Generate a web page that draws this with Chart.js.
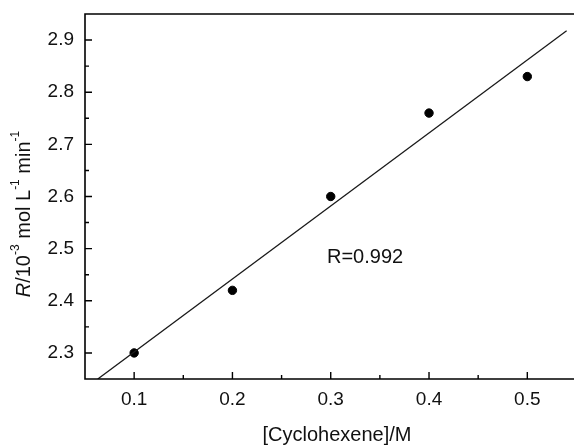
<!DOCTYPE html>
<html>
<head>
<meta charset="utf-8">
<script src="https://cdn.jsdelivr.net/npm/chart.js@4/dist/chart.umd.min.js"></script>
<style>
  html, body { margin: 0; padding: 0; background: #fff; }
  #wrap { width: 574px; height: 446px; }
</style>
</head>
<body>
<div id="wrap"><canvas id="myChart"></canvas></div>
<script>
// measured points
const concX = [0.1, 0.2, 0.3, 0.4, 0.5];
const rateY = [2.30, 2.42, 2.60, 2.76, 2.83];
// fitted line ends
const fitX = [0.063, 0.54];
const fitY = [2.25, 2.918];
// ticks
const xTicks = [0.1, 0.2, 0.3, 0.4, 0.5];
const xMinor = [0.15, 0.25, 0.35, 0.45];
const yTicks = [2.3, 2.4, 2.5, 2.6, 2.7, 2.8, 2.9];
const yMinor = [2.35, 2.45, 2.55, 2.65, 2.75, 2.85];

const FONT = '"Liberation Sans", Arial, sans-serif';

// axes lines, inward ticks and titles
const frame = {
    id: 'frame',
    afterDraw(chart) {
        const c = chart.ctx;
        const a = chart.chartArea;
        const xs = chart.scales.x, ys = chart.scales.y;
        c.save();
        c.strokeStyle = '#000';
        c.lineWidth = 1.6;
        c.beginPath();
        c.moveTo(a.right, a.top); c.lineTo(a.left, a.top);
        c.lineTo(a.left, a.bottom); c.lineTo(a.right, a.bottom);
        c.stroke();
        c.lineWidth = 1.4;
        c.beginPath();
        xTicks.forEach(v => { const p = xs.getPixelForValue(v); c.moveTo(p, a.bottom); c.lineTo(p, a.bottom - 7); });
        xMinor.forEach(v => { const p = xs.getPixelForValue(v); c.moveTo(p, a.bottom); c.lineTo(p, a.bottom - 4); });
        yTicks.forEach(v => { const p = ys.getPixelForValue(v); c.moveTo(a.left, p); c.lineTo(a.left + 7, p); });
        yMinor.forEach(v => { const p = ys.getPixelForValue(v); c.moveTo(a.left, p); c.lineTo(a.left + 4, p); });
        c.stroke();

        c.fillStyle = '#111';
        c.font = '20px ' + FONT;
        c.textAlign = 'center';
        c.textBaseline = 'middle';
        c.fillText('[Cyclohexene]/M', 337, 435);

        c.textAlign = 'left';
        c.fillText('R=0.992', 327, 257);

        // y title with italic R and superscripts
        const parts = [
            ['R', 'italic 20px ', 0],
            ['/10', '20px ', 0],
            ['-3', '12px ', -8],
            [' mol L', '20px ', 0],
            ['-1', '12px ', -8],
            [' min', '20px ', 0],
            ['-1', '12px ', -8]
        ];
        let total = 0;
        parts.forEach(p => { c.font = p[1] + FONT; total += c.measureText(p[0]).width; });
        c.translate(24, 214);
        c.rotate(-Math.PI / 2);
        c.textBaseline = 'middle';
        let x = -total / 2;
        parts.forEach(p => {
            c.font = p[1] + FONT;
            c.fillText(p[0], x, p[2]);
            x += c.measureText(p[0]).width;
        });
        c.restore();
    }
};

new Chart(document.getElementById('myChart'), {
    type: 'scatter',
    data: {
        datasets: [{
            type: 'line',
            data: fitX.map((v, i) => ({ x: v, y: fitY[i] })),
            borderColor: '#1a1a1a',
            borderWidth: 1.3,
            pointRadius: 0,
            fill: false
        }, {
            data: concX.map((v, i) => ({ x: v, y: rateY[i] })),
            backgroundColor: '#000',
            borderColor: '#000',
            pointRadius: 4.2,
            pointHoverRadius: 4.2
        }]
    },
    plugins: [frame],
    options: {
        responsive: true,
        maintainAspectRatio: false,
        animation: false,
        layout: { autoPadding: false, padding: { top: 14, right: 0, left: 0, bottom: 0 } },
        plugins: { legend: { display: false }, tooltip: { enabled: false } },
        scales: {
            x: {
                type: 'linear',
                min: 0.05,
                max: 0.5475,
                grid: { display: false, drawTicks: false },
                border: { display: false },
                afterBuildTicks: s => { s.ticks = xTicks.map(v => ({ value: v })); },
                afterFit: s => { s.height = 67; s.paddingLeft = 0; s.paddingRight = 0; },
                ticks: { color: '#111', padding: 9, font: { family: FONT, size: 19 }, callback: v => v.toFixed(1) }
            },
            y: {
                type: 'linear',
                min: 2.25,
                max: 2.95,
                grid: { display: false, drawTicks: false },
                border: { display: false },
                afterBuildTicks: s => { s.ticks = yTicks.map(v => ({ value: v })); },
                afterFit: s => { s.width = 85; s.paddingTop = 0; s.paddingBottom = 0; },
                ticks: { color: '#111', padding: 11, font: { family: FONT, size: 19 }, callback: v => v.toFixed(1) }
            }
        }
    }
});
</script>
</body>
</html>
